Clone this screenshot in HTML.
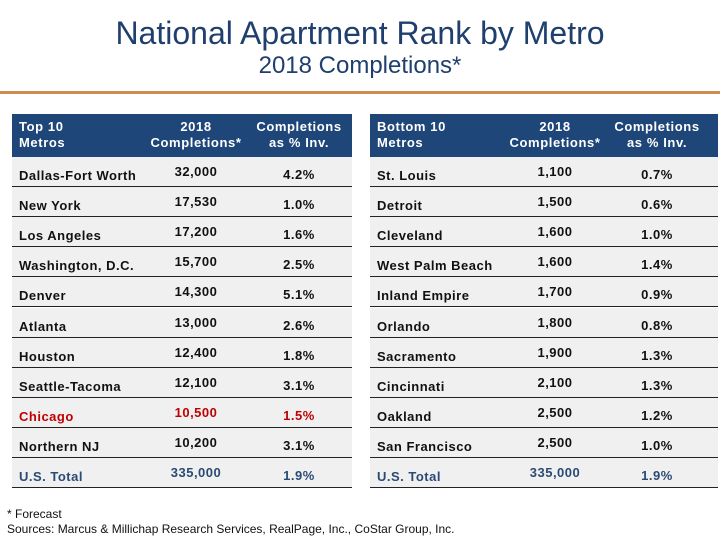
<!DOCTYPE html>
<html><head><meta charset="utf-8"><style>
body{margin:0;width:720px;height:540px;background:#fff;font-family:"Liberation Sans",sans-serif;position:relative;overflow:hidden}
.t{position:absolute;left:0;width:720px;text-align:center;color:#1f3f6e}
.tbl{position:absolute;top:114px}
.hd{position:absolute;top:0;height:43px;left:0;right:0;background:#1f4679}
.hc{position:absolute;color:#fff;font-size:13px;font-weight:bold;line-height:16px;top:5px;letter-spacing:0.6px}
.row{position:absolute;left:0;right:0;height:30.1px;background:#f0f0f0;border-bottom:1.5px solid #222;box-sizing:border-box}
.c{position:absolute;font-size:13px;font-weight:bold;color:#111;top:9px;letter-spacing:0.5px}
.red .c{color:#c00000}
.tot .c{color:#2a4a75}
</style></head><body>
<div class="t" style="top:15px;font-size:32px">National Apartment Rank by Metro</div>
<div class="t" style="top:52px;font-size:24px">2018 Completions*</div>
<div style="position:absolute;left:0;top:91px;width:720px;height:3px;background:#d08a50"></div>
<div id="L" class="tbl" style="left:12px;width:340px"></div>
<div id="R" class="tbl" style="left:370px;width:348px"></div>
<div style="position:absolute;left:7px;top:507px;font-size:12px;line-height:15px;color:#111">* Forecast<br>Sources: Marcus &amp; Millichap Research Services, RealPage, Inc., CoStar Group, Inc.</div>
<script>
const topNames=["Dallas-Fort Worth","New York","Los Angeles","Washington, D.C.","Denver","Atlanta","Houston","Seattle-Tacoma","Chicago","Northern NJ","U.S. Total"];
const topCompl=["32,000","17,530","17,200","15,700","14,300","13,000","12,400","12,100","10,500","10,200","335,000"];
const topPct=["4.2%","1.0%","1.6%","2.5%","5.1%","2.6%","1.8%","3.1%","1.5%","3.1%","1.9%"];
const botNames=["St. Louis","Detroit","Cleveland","West Palm Beach","Inland Empire","Orlando","Sacramento","Cincinnati","Oakland","San Francisco","U.S. Total"];
const botCompl=["1,100","1,500","1,600","1,600","1,700","1,800","1,900","2,100","2,500","2,500","335,000"];
const botPct=["0.7%","0.6%","1.0%","1.4%","0.9%","0.8%","1.3%","1.3%","1.2%","1.0%","1.9%"];
function build(id,h1,names,compl,pct,c2,c3){
 const t=document.getElementById(id);
 const hd=document.createElement('div');hd.className='hd';
 
 
 hd.innerHTML='<div class="hc" style="left:7px">'+h1+'</div><div class="hc" style="left:'+(c2-60)+'px;width:120px;text-align:center">2018<br>Completions*</div><div class="hc" style="left:'+(c3-60)+'px;width:120px;text-align:center">Completions<br>as % Inv.</div>';
 t.appendChild(hd);
 names.forEach((n,i)=>{
  const r=document.createElement('div');
  r.className='row'+(n==='Chicago'?' red':'')+(n==='U.S. Total'?' tot':'');
  r.style.top=(43+i*30.1)+'px';
  
  
  r.innerHTML='<div class="c" style="left:7px;top:11px">'+n+'</div><div class="c" style="left:'+(c2-60)+'px;width:120px;text-align:center;top:7px">'+compl[i]+'</div><div class="c" style="left:'+(c3-60)+'px;width:120px;text-align:center;top:10px">'+pct[i]+'</div>';
  t.appendChild(r);
 });
}
build('L','Top 10<br>Metros',topNames,topCompl,topPct,184,287);
build('R','Bottom 10<br>Metros',botNames,botCompl,botPct,185,287);
</script>
</body></html>
